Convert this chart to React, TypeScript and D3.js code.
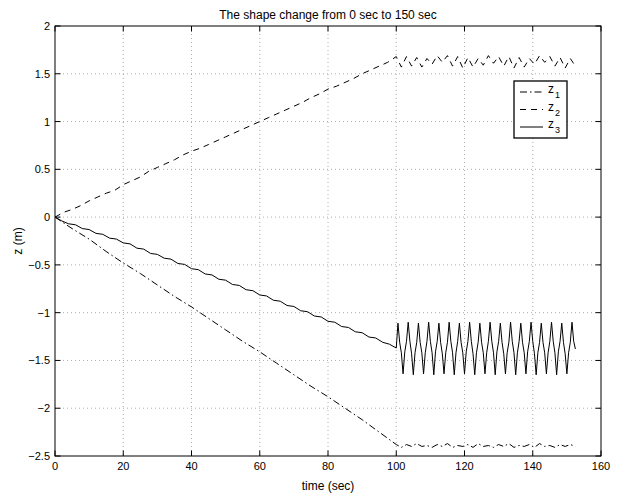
import * as d3 from 'd3'

// axis ticks
const xTicks = [0, 20, 40, 60, 80, 100, 120, 140, 160]
const yTicks = [-2.5, -2, -1.5, -1, -0.5, 0, 0.5, 1, 1.5, 2]

// z1 (dash-dot): ramp sampled every 5 s, then settled part every 1.5 s from 101.5 s
const z1Ramp = [0, -0.12, -0.23, -0.36, -0.48, -0.59, -0.71, -0.83, -0.94, -1.06, -1.18,
  -1.3, -1.41, -1.53, -1.65, -1.77, -1.88, -2.0, -2.12, -2.25, -2.38]
const z1Osc = [-2.41, -2.38, -2.4, -2.37, -2.4, -2.39, -2.41, -2.38, -2.4, -2.37, -2.41, -2.39,
  -2.4, -2.38, -2.41, -2.37, -2.4, -2.39, -2.41, -2.38, -2.4, -2.37, -2.41, -2.39, -2.4, -2.38,
  -2.41, -2.37, -2.4, -2.39, -2.41, -2.38, -2.4, -2.38, -2.4]

// z2 (dashed): ramp every 2.5 s, then oscillation every 1.5 s from 101.5 s
const z2Ramp = [0, 0.05, 0.08, 0.12, 0.17, 0.21, 0.25, 0.28, 0.34, 0.38, 0.42, 0.48, 0.52, 0.56,
  0.6, 0.65, 0.69, 0.72, 0.76, 0.8, 0.84, 0.88, 0.92, 0.96, 1.0, 1.04, 1.08, 1.12, 1.16, 1.2,
  1.25, 1.29, 1.34, 1.37, 1.41, 1.45, 1.5, 1.54, 1.58, 1.62, 1.68]
const z2Osc = [1.57, 1.68, 1.58, 1.67, 1.57, 1.66, 1.6, 1.69, 1.62, 1.69, 1.58, 1.68, 1.56, 1.67,
  1.57, 1.66, 1.59, 1.69, 1.61, 1.68, 1.58, 1.68, 1.56, 1.67, 1.57, 1.66, 1.6, 1.69, 1.62, 1.68,
  1.58, 1.67, 1.56, 1.66, 1.58]

// z3 (solid): ramp every 2 s, then oscillation every 0.5 s from 100.5 s
const z3Ramp = [0, -0.04, -0.07, -0.08, -0.12, -0.13, -0.17, -0.18, -0.22, -0.23, -0.27, -0.28,
  -0.325, -0.335, -0.38, -0.39, -0.43, -0.44, -0.485, -0.495, -0.54, -0.55, -0.595, -0.605,
  -0.65, -0.66, -0.705, -0.715, -0.76, -0.77, -0.815, -0.825, -0.87, -0.88, -0.925, -0.935,
  -0.98, -0.99, -1.035, -1.045, -1.09, -1.1, -1.145, -1.155, -1.2, -1.21, -1.255, -1.265,
  -1.31, -1.33, -1.37]
const z3Osc = [
  -1.11, -1.31, -1.42, -1.64, -1.41, -1.3,
  -1.1, -1.3, -1.43, -1.65, -1.42, -1.31,
  -1.11, -1.31, -1.42, -1.64, -1.42, -1.3,
  -1.1, -1.3, -1.42, -1.65, -1.41, -1.3,
  -1.11, -1.31, -1.43, -1.64, -1.42, -1.31,
  -1.1, -1.3, -1.42, -1.65, -1.42, -1.3,
  -1.11, -1.31, -1.42, -1.64, -1.41, -1.3,
  -1.1, -1.3, -1.43, -1.65, -1.42, -1.31,
  -1.11, -1.31, -1.42, -1.64, -1.42, -1.3,
  -1.1, -1.3, -1.42, -1.65, -1.41, -1.3,
  -1.11, -1.31, -1.43, -1.64, -1.42, -1.31,
  -1.1, -1.3, -1.42, -1.65, -1.42, -1.3,
  -1.11, -1.31, -1.42, -1.64, -1.41, -1.3,
  -1.1, -1.3, -1.43, -1.65, -1.42, -1.31,
  -1.11, -1.31, -1.42, -1.64, -1.42, -1.3,
  -1.1, -1.3, -1.42, -1.65, -1.41, -1.3,
  -1.11, -1.31, -1.43, -1.64, -1.42, -1.31,
  -1.1, -1.3, -1.38,
]

type Pt = [number, number]
const join = (ramp: number[], rampStep: number, osc: number[], oscStart: number, oscStep: number): Pt[] => [
  ...ramp.map((v, i) => [i * rampStep, v] as Pt),
  ...osc.map((v, i) => [oscStart + i * oscStep, v] as Pt),
]

const series = [
  { name: '1', pts: join(z1Ramp, 5, z1Osc, 101.5, 1.5), dash: '7,3,1.5,3' },
  { name: '2', pts: join(z2Ramp, 2.5, z2Osc, 101.5, 1.5), dash: '6,5' },
  { name: '3', pts: join(z3Ramp, 2, z3Osc, 100.5, 0.5), dash: '' },
]

const W = 619
const H = 495
const L = 55, R = 601, T = 26, B = 456
const font = 'Liberation Sans, Arial, Helvetica, sans-serif'

export default function App() {
  const x = d3.scaleLinear().domain([0, 160]).range([L, R])
  const y = d3.scaleLinear().domain([-2.5, 2]).range([B, T])
  const line = d3.line<Pt>().x(d => x(d[0])).y(d => y(d[1]))
  const tk = 5.5
  const fmt = (v: number) => String(v).replace('-', '\u2212')

  return (
    <svg width={W} height={H} style={{ position: 'absolute', left: 0, top: 0, background: '#fff' }}
      fontFamily={font}>
      <rect x={0} y={0} width={W} height={H} fill="#fff" />
      {/* grid */}
      <g stroke="#999" strokeWidth={0.8} strokeDasharray="1,3">
        {xTicks.slice(1, -1).map(t => <line key={'gx' + t} x1={x(t)} x2={x(t)} y1={T} y2={B} />)}
        {yTicks.slice(1, -1).map(t => <line key={'gy' + t} x1={L} x2={R} y1={y(t)} y2={y(t)} />)}
      </g>
      {/* data */}
      <g fill="none" stroke="#000" strokeWidth={1}>
        {series.map(s => (
          <path key={s.name} d={line(s.pts) || ''} strokeDasharray={s.dash || undefined} />
        ))}
      </g>
      {/* box and ticks */}
      <g stroke="#000" strokeWidth={1}>
        <rect x={L} y={T} width={R - L} height={B - T} fill="none" />
        {xTicks.map(t => (
          <g key={'tx' + t}>
            <line x1={x(t)} x2={x(t)} y1={B} y2={B - tk} />
            <line x1={x(t)} x2={x(t)} y1={T} y2={T + tk} />
          </g>
        ))}
        {yTicks.map(t => (
          <g key={'ty' + t}>
            <line x1={L} x2={L + tk} y1={y(t)} y2={y(t)} />
            <line x1={R} x2={R - tk} y1={y(t)} y2={y(t)} />
          </g>
        ))}
      </g>
      {/* tick labels */}
      <g fontSize={11} fill="#000">
        {xTicks.map(t => (
          <text key={'lx' + t} x={x(t)} y={B + 14} textAnchor="middle">{fmt(t)}</text>
        ))}
        {yTicks.map(t => (
          <text key={'ly' + t} x={L - 5} y={y(t) + 4} textAnchor="end">{fmt(t)}</text>
        ))}
      </g>
      <text x={(L + R) / 2} y={19} textAnchor="middle" fontSize={12}>The shape change from 0 sec to 150 sec</text>
      <text x={(L + R) / 2} y={490} textAnchor="middle" fontSize={12}>time (sec)</text>
      <text transform={`translate(22,${(T + B) / 2}) rotate(-90)`} textAnchor="middle" fontSize={12}>z (m)</text>
      {/* legend */}
      <g>
        <rect x={514} y={81} width={53} height={57} fill="#fff" stroke="#000" strokeWidth={1.3} />
        {series.map((s, i) => {
          const ly = 92 + i * 17.5
          return (
            <g key={'lg' + s.name}>
              <line x1={520} x2={543} y1={ly} y2={ly} stroke="#000" strokeWidth={1}
                strokeDasharray={s.dash || undefined} />
              <text x={548} y={ly + 1} fontSize={12}>z</text>
              <text x={555} y={ly + 6} fontSize={9}>{s.name}</text>
            </g>
          )
        })}
      </g>
    </svg>
  )
}
